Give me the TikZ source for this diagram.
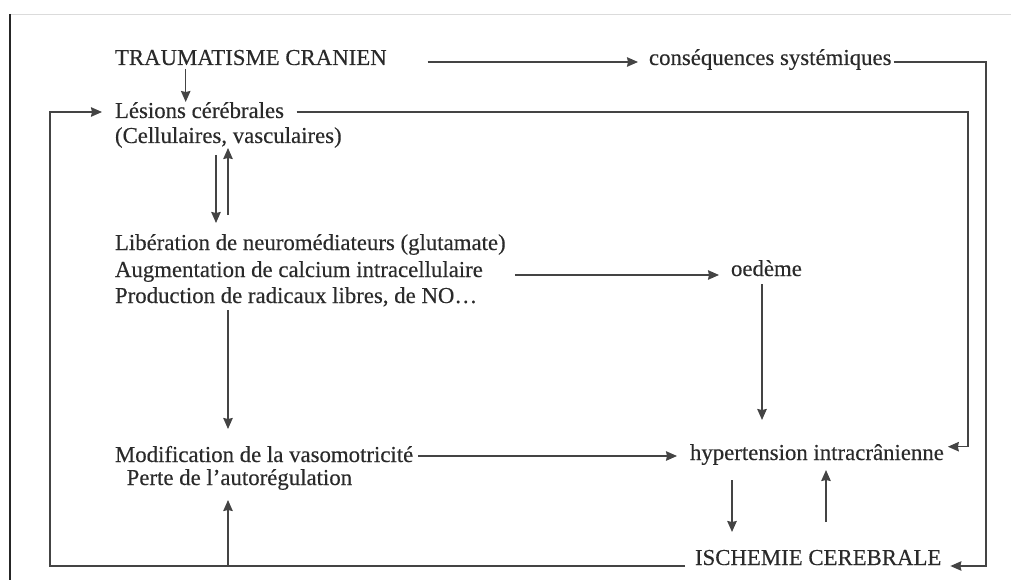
\documentclass[tikz,border=0pt]{standalone}
\usepackage{fontspec}
\setmainfont{Liberation Serif}
\newfontfamily\lblfont{Liberation Serif}[FakeBold=0.3]
\usetikzlibrary{arrows.meta}
\definecolor{ink}{HTML}{2A2A2A}
\definecolor{wire}{HTML}{444444}
\begin{document}
\begin{tikzpicture}[x=1pt,y=-1pt,
  lbl/.style={anchor=base west,inner sep=0pt,outer sep=0pt,text=ink,
              font=\lblfont\fontsize{22.8}{27}\selectfont},
  link/.style={draw=wire,line width=1.4pt},
  arr/.style={link,-{Stealth[length=11pt,width=9.5pt,inset=1pt]}}]
\useasboundingbox (0,0) rectangle (1011,580);

% page frame
\draw[draw=black!14,line width=1pt] (10,15) -- (1011,15);
\draw[draw=black!85,line width=2pt] (10,14) -- (10,580);

% labels
\node[lbl] (trauma) at (115,65) {TRAUMATISME CRANIEN};
\node[lbl] (cons)   at (649,65) {conséquences systémiques};
\node[lbl] (les1)   at (115,118) {Lésions cérébrales};
\node[lbl] (les2)   at (115,143) {(Cellulaires, vasculaires)};
\node[lbl] (lib1)   at (115,250) {Libération de neuromédiateurs (glutamate)};
\node[lbl] (lib2)   at (115,277) {Augmentation de calcium intracellulaire};
\node[lbl] (lib3)   at (115,303) {Production de radicaux libres, de NO…};
\node[lbl] (oedeme) at (731,276) {oedème};
\node[lbl] (mod1)   at (115,462) {Modification de la vasomotricité};
\node[lbl] (mod2)   at (126.7,485) {Perte de l’autorégulation};
\node[lbl] (hyper)  at (690,460) {hypertension intracrânienne};
\node[lbl] (ische)  at (695,565) {ISCHEMIE CEREBRALE};

% rails used by the long feedback loops
\coordinate (railA) at (986,62);
\coordinate (railB) at (968,112);
\coordinate (railL) at (50,566);

% top row
\draw[arr] ([shift={(41,-3)}]trauma.base east) -- ([shift={(-11,-3)}]cons.base west);
\draw[arr] ([shift={(70.7,4)}]trauma.base west) -- ([shift={(70.7,-16)}]les1.base west);

% systemic consequences down to cerebral ischaemia
\draw[arr] ([shift={(2,-3)}]cons.base east) -- (railA) |- ([shift={(9,1)}]ische.base east);

% lesions to intracranial hypertension
\draw[arr] ([shift={(12.7,-6)}]les1.base east) -- (railB) |- ([shift={(4,-13.3)}]hyper.base east);

% ischaemia back to the lesions
\draw[arr] ([shift={(-10,1)}]ische.base west) -- (railL) |- ([shift={(-13,-6)}]les1.base west);
\draw[arr] ([shift={(101.3,81)}]mod2.base west) -- ([shift={(101.3,15)}]mod2.base west);

% lesions <-> mediators
\draw[arr] ([shift={(101,12)}]les2.base west) -- ([shift={(101,-27)}]lib1.base west);
\draw[arr] ([shift={(113,-35)}]lib1.base west) -- ([shift={(113,5)}]les2.base west);

% mediators to oedema and to vasomotricity
\draw[arr] ([shift={(32,-2)}]lib2.base east) -- ([shift={(-12,-1)}]oedeme.base west);
\draw[arr] ([shift={(113,7)}]lib3.base west) -- ([shift={(113,-33)}]mod1.base west);

% towards intracranial hypertension
\draw[arr] ([shift={(31,8)}]oedeme.base west) -- ([shift={(72,-40)}]hyper.base west);
\draw[arr] ([shift={(5,-6)}]mod1.base east) -- ([shift={(-13,-4)}]hyper.base west);

% hypertension <-> ischaemia
\draw[arr] ([shift={(42,20)}]hyper.base west) -- ([shift={(37,-33)}]ische.base west);
\draw[arr] ([shift={(131,-43)}]ische.base west) -- ([shift={(136,10)}]hyper.base west);
\end{tikzpicture}
\end{document}
